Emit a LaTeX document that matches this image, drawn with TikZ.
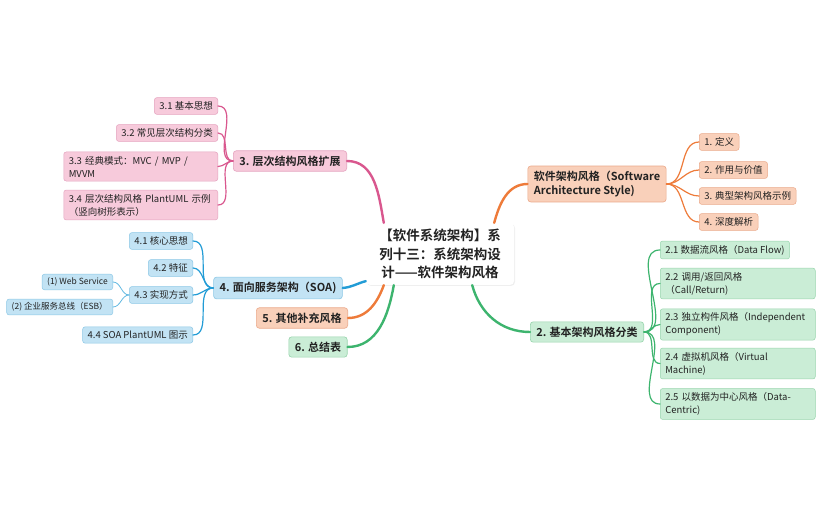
\documentclass[tikz,border=0pt]{standalone}
\usepackage{fontspec}
\setmainfont{Noto Sans CJK SC}[BoldFont={Noto Sans CJK SC Bold}]
\usetikzlibrary{shadows}
\definecolor{pinkline}{HTML}{D9578E}
\definecolor{pinkfill}{HTML}{F7CADB}
\definecolor{pinkedge}{HTML}{E5A3BF}
\definecolor{blueline}{HTML}{229CD6}
\definecolor{bluefill}{HTML}{C2E3F4}
\definecolor{blueedge}{HTML}{8CC8E6}
\definecolor{orangeline}{HTML}{EE7B3A}
\definecolor{orangefill}{HTML}{F9D0BA}
\definecolor{orangeedge}{HTML}{EBA98A}
\definecolor{greenline}{HTML}{3DB46E}
\definecolor{greenfill}{HTML}{CAEDD6}
\definecolor{greenedge}{HTML}{98D5AD}
\definecolor{inktext}{HTML}{222222}

\begin{document}
\begin{tikzpicture}[x=1pt, y=1pt,
    rootbox/.style={fill=white, rounded corners=4pt, align=center, text width=136pt,
                    font=\fontsize{13.5}{18.5}\selectfont\bfseries, inner sep=6pt,
                    drop shadow={opacity=0.12, shadow xshift=1pt, shadow yshift=-1pt}},
    mainbox/.style={draw, rounded corners=3pt, line width=0.6pt, inner xsep=6pt, inner ysep=5pt,
                    font=\fontsize{11}{14}\selectfont\bfseries},
    leafbox/.style={draw, rounded corners=2.5pt, line width=0.5pt, inner xsep=5pt, inner ysep=4pt,
                    font=\fontsize{9.5}{13}\selectfont},
    subleaf/.style={leafbox, inner ysep=3.5pt, font=\fontsize{8.5}{11}\selectfont},
    pinkbox/.style={fill=pinkfill, draw=pinkedge},
    bluebox/.style={fill=bluefill, draw=blueedge},
    orangebox/.style={fill=orangefill, draw=orangeedge},
    greenbox/.style={fill=greenfill, draw=greenedge},
    branch/.style={line width=2.4pt, line cap=round},
    twig/.style={line width=1.2pt, line cap=round},
    every node/.style={text=inktext}
]
\useasboundingbox (0,0) rectangle (828,-518);
\fill[white] (0,0) rectangle (828,-518);

% centre
\node[rootbox] (root) at (440,-254) {【软件系统架构】系\\列十三：系统架构设\\计——软件架构风格};

% main branches
\node[mainbox, orangebox, align=left] (style) at (597,-184) {软件架构风格（Software\\Architecture Style)};
\node[mainbox, greenbox] (basic) at (587,-332) {2. 基本架构风格分类};
\node[mainbox, pinkbox] (layer) at (290,-161) {3. 层次结构风格扩展};
\node[mainbox, bluebox] (soa) at (278,-288) {4. 面向服务架构（SOA)};
\node[mainbox, orangebox] (other) at (302,-318) {5. 其他补充风格};
\node[mainbox, greenbox] (table) at (318,-347) {6. 总结表};

% software architecture style
\node[leafbox, orangebox, anchor=west] (style1) at (699,-142) {1. 定义};
\node[leafbox, orangebox, anchor=west] (style2) at (699,-170) {2. 作用与价值};
\node[leafbox, orangebox, anchor=west] (style3) at (699,-196) {3. 典型架构风格示例};
\node[leafbox, orangebox, anchor=west] (style4) at (699,-222) {4. 深度解析};

% basic styles
\node[leafbox, greenbox, anchor=west] (basic1) at (660,-250) {2.1 数据流风格（Data Flow)};
\node[leafbox, greenbox, anchor=west, text width=145pt, align=left] (basic2) at (660,-283.5) {2.2 调用/返回风格\\（Call/Return)};
\node[leafbox, greenbox, anchor=west, text width=145pt, align=left] (basic3) at (660,-324.5) {2.3 独立构件风格（Independent\\Component)};
\node[leafbox, greenbox, anchor=west, text width=145pt, align=left] (basic4) at (660,-363.5) {2.4 虚拟机风格（Virtual\\Machine)};
\node[leafbox, greenbox, anchor=west, text width=145pt, align=left] (basic5) at (660,-404) {2.5 以数据为中心风格（Data-\\Centric)};

% layered styles
\node[leafbox, pinkbox, anchor=east] (layer1) at (218,-106) {3.1 基本思想};
\node[leafbox, pinkbox, anchor=east] (layer2) at (218,-133) {3.2 常见层次结构分类};
\node[leafbox, pinkbox, anchor=east, text width=144pt, align=left] (layer3) at (218,-166.5) {3.3 经典模式：MVC / MVP /\\MVVM};
\node[leafbox, pinkbox, anchor=east, text width=144pt, align=left] (layer4) at (218,-205) {3.4 层次结构风格 PlantUML 示例\\（竖向树形表示）};

% soa
\node[leafbox, bluebox, anchor=east] (soa1) at (193,-241) {4.1 核心思想};
\node[leafbox, bluebox, anchor=east] (soa2) at (193,-268) {4.2 特征};
\node[leafbox, bluebox, anchor=east] (soa3) at (193,-295) {4.3 实现方式};
\node[leafbox, bluebox, anchor=east] (soa4) at (193,-335) {4.4 SOA PlantUML 图示};
\node[subleaf, bluebox, anchor=east] (ws) at (113,-282) {(1) Web Service};
\node[subleaf, bluebox, anchor=east] (esb) at (113,-307) {(2) 企业服务总线（ESB）};

% branches from the centre
\draw[branch, pinkline] (layer.east) to[out=0, in=100] ([xshift=18pt]root.north west);
\draw[branch, orangeline] (style.west) to[out=180, in=75] ([xshift=-20pt]root.north east);
\draw[branch, greenline] ([xshift=-42pt]root.south east) to[out=-75, in=180] (basic.west);
\draw[branch, blueline] (soa.east) to[out=5, in=195] ([yshift=4pt]root.south west);
\draw[branch, orangeline] (other.east) to[out=0, in=-110] ([xshift=18pt]root.south west);
\draw[branch, greenline] (table.east) to[out=0, in=-100] ([xshift=28pt]root.south west);

% twigs
\foreach \n in {1,...,4}
  \draw[twig, orangeline] (style.east) to[out=0, in=180] (style\n.west);
\foreach \n in {1,...,5}
  \draw[twig, greenline] (basic.east) to[out=0, in=180] (basic\n.west);
\foreach \n in {1,...,4}
  \draw[twig, pinkline] (layer.west) to[out=180, in=0] (layer\n.east);
\foreach \n in {1,...,4}
  \draw[twig, blueline] (soa.west) to[out=180, in=0] (soa\n.east);
\draw[twig, line width=0.8pt, blueline!70] (soa3.west) to[out=180, in=0] (ws.east);
\draw[twig, line width=0.8pt, blueline!70] (soa3.west) to[out=180, in=0] (esb.east);
\end{tikzpicture}
\end{document}
